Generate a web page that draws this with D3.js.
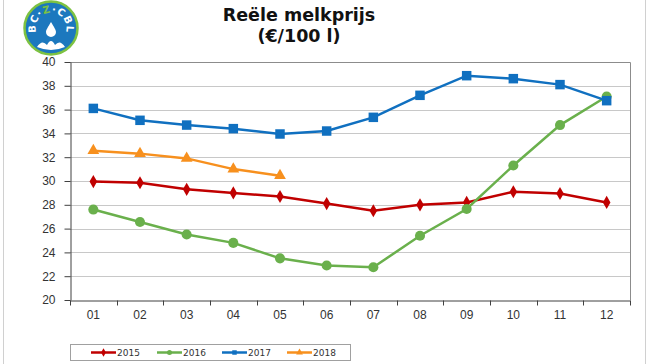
<!DOCTYPE html>
<html><head><meta charset="utf-8">
<script src="https://cdn.jsdelivr.net/npm/d3@7"></script>
<style>body{margin:0;background:#fff}svg{display:block}</style>
</head><body>
<svg id="c" width="648" height="364"></svg>
<script>
const months = ["01","02","03","04","05","06","07","08","09","10","11","12"];
const yTicks = [20,22,24,26,28,30,32,34,36,38,40];
const s2015 = [29.95,29.85,29.3,29.0,28.7,28.1,27.5,28.0,28.2,29.1,28.95,28.2];
const s2016 = [27.6,26.55,25.5,24.8,23.5,22.9,22.75,25.4,27.65,31.3,34.7,37.1];
const s2017 = [36.1,35.1,34.7,34.4,33.95,34.2,35.35,37.2,38.85,38.6,38.1,36.75];
const s2018 = [32.55,32.3,31.9,31.0,30.45];
const seriesNames = ["2015","2016","2017","2018"];
const seriesColors = ["#C00000","#6AB04C","#1070C0","#F7901E"];
const seriesShapes = ["diamond","circle","square","triangle"];
const seriesData = [s2015,s2016,s2017,s2018];

const svg = d3.select("#c");
const L=70,R=630,T=62,B=300;
const x = d3.scaleBand().domain(months).range([L,R]);
const y = d3.scaleLinear().domain([20,40]).range([B,T]);

// outer frame
svg.append("line").attr("x1",3.5).attr("x2",3.5).attr("y1",0).attr("y2",364).attr("stroke","#d0d0d0");
svg.append("line").attr("x1",645.5).attr("x2",645.5).attr("y1",0).attr("y2",364).attr("stroke","#d0d0d0");

// logo
const lg = svg.append("g").attr("transform","translate(51,28)");
lg.append("circle").attr("r",26.5).attr("fill","#1C78BE").attr("stroke","#7DC242").attr("stroke-width",2.5);
lg.append("path").attr("id","arc").attr("d","M -12.5 9 A 15.4 15.4 0 1 1 12.5 9").attr("fill","none");
const lt = lg.append("text").attr("font-family","DejaVu Sans").attr("font-weight","bold").attr("font-size",10).attr("fill","#fff")
  .append("textPath").attr("href","#arc").attr("startOffset","50%").attr("text-anchor","middle").attr("letter-spacing",0.8);
lt.append("tspan").text("BC");
lt.append("tspan").text("·");
lt.append("tspan").attr("fill","#7DC242").text("Z");
lt.append("tspan").text("·CBL");
lg.append("path").attr("d","M0 -6 C 3 -1 5 2 5 4 A 5 5 0 0 1 -5 4 C -5 2 -3 -1 0 -6 Z").attr("fill","#fff");
lg.append("path").attr("d","M-14 19 Q -9 11 -4 17 Q 0 9 4 17 Q 9 11 14 19 Q 0 25 -14 19 Z").attr("fill","#fff");

// title
svg.append("text").attr("x",299).attr("y",21).attr("text-anchor","middle")
  .attr("font-family","DejaVu Sans").attr("font-weight","bold").attr("font-size",17.5).attr("fill","#111").text("Reële melkprijs");
svg.append("text").attr("x",299).attr("y",42).attr("text-anchor","middle")
  .attr("font-family","DejaVu Sans").attr("font-weight","bold").attr("font-size",17.5).attr("fill","#111").text("(€/100 l)");

// grid
svg.append("g").selectAll("line").data(yTicks.filter(d=>d>20&&d<40)).join("line")
  .attr("x1",L).attr("x2",R).attr("y1",d=>Math.round(y(d))+0.5).attr("y2",d=>Math.round(y(d))+0.5)
  .attr("stroke","#c8c8c8");
// plot border top/right
svg.append("path").attr("d",`M${L} ${T+0.5} H${R+0.5} V${B}`).attr("fill","none").attr("stroke","#8c8c8c");

// y axis
const ya = svg.append("g").attr("transform",`translate(${L+0.5},0)`)
  .call(d3.axisLeft(y).tickValues(yTicks).tickSize(6).tickPadding(9).tickSizeOuter(0));
ya.select(".domain").attr("stroke","#404040");
ya.selectAll(".tick line").attr("stroke","#404040");
ya.selectAll("text").attr("font-family","Liberation Sans").attr("font-size",12).attr("fill","#333");

// x axis
const xa = svg.append("g").attr("transform",`translate(0,${B+0.5})`)
  .call(d3.axisBottom(x).tickSize(0).tickPadding(10).tickSizeOuter(0));
xa.select(".domain").attr("stroke","#404040");
xa.selectAll("text").attr("font-family","Liberation Sans").attr("font-size",12).attr("fill","#333");
xa.append("g").selectAll("line").data(months.concat(["end"])).join("line")
  .attr("x1",(d,i)=>Math.round(L+i*x.step())+0.5).attr("x2",(d,i)=>Math.round(L+i*x.step())+0.5)
  .attr("y1",0).attr("y2",5).attr("stroke","#404040");

const symType = {diamond:d3.symbolDiamond,circle:d3.symbolCircle,square:d3.symbolSquare,triangle:d3.symbolTriangle};
const symSize = {diamond:50,circle:80,square:90,triangle:60};

seriesData.forEach((data,si)=>{
  const col = seriesColors[si];
  const pts = data.map((v,i)=>[x(months[i])+x.bandwidth()/2, y(v)]);
  svg.append("path").attr("d",d3.line()(pts)).attr("fill","none").attr("stroke",col).attr("stroke-width",2.5);
  svg.append("g").selectAll("path").data(pts).join("path")
    .attr("transform",d=>`translate(${d[0]},${d[1]})`)
    .attr("d",d3.symbol().type(symType[seriesShapes[si]]).size(symSize[seriesShapes[si]]))
    .attr("fill",col);
});

// legend
svg.append("rect").attr("x",70.5).attr("y",344.5).attr("width",280).attr("height",16).attr("fill","#fff").attr("stroke","#a0a0a0");
const lx = [91,157,222,287];
seriesNames.forEach((n,i)=>{
  const g = svg.append("g").attr("transform",`translate(${lx[i]},352.5)`);
  g.append("line").attr("x1",0).attr("x2",25).attr("stroke",seriesColors[i]).attr("stroke-width",2.5);
  g.append("path").attr("transform","translate(12.5,0)")
    .attr("d",d3.symbol().type(symType[seriesShapes[i]]).size(20)).attr("fill",seriesColors[i]);
  g.append("text").attr("x",26).attr("y",3.5).attr("font-family","DejaVu Sans").attr("font-size",9).attr("fill","#333").text(n);
});
</script>
</body></html>
